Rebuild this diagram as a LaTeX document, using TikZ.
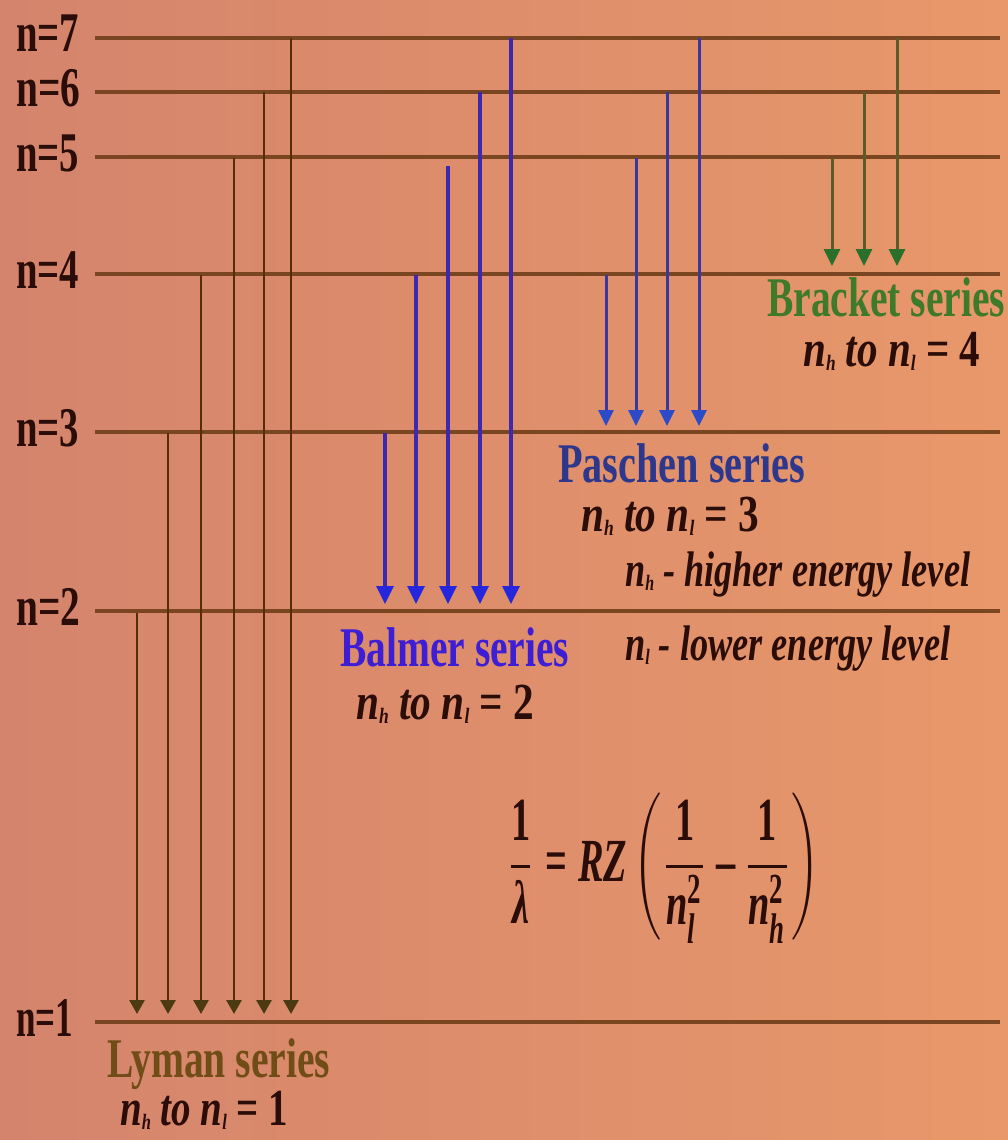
\documentclass[tikz,border=0pt]{standalone}
\usepackage{amsmath}
\usepackage{fontspec}
\setmainfont{Liberation Serif}
\usepackage{graphicx}
\usetikzlibrary{arrows.meta}
\definecolor{bgL}{RGB}{212,132,108}
\definecolor{bgR}{RGB}{232,152,106}
\definecolor{levc}{RGB}{122,70,34}
\definecolor{lymc}{RGB}{85,45,8}
\definecolor{lymh}{RGB}{75,58,18}
\definecolor{balc}{RGB}{62,40,175}
\definecolor{balh}{RGB}{38,38,220}
\definecolor{pasc}{RGB}{58,55,160}
\definecolor{pash}{RGB}{45,75,200}
\definecolor{brac}{RGB}{90,92,42}
\definecolor{brah}{RGB}{42,112,42}
\definecolor{inkc}{RGB}{42,12,8}
\definecolor{lymt}{RGB}{112,76,22}
\definecolor{balt}{RGB}{62,30,212}
\definecolor{past}{RGB}{45,55,140}
\definecolor{brat}{RGB}{62,122,42}
\newcommand{\wbox}[2]{\resizebox{#1pt}{\height}{#2}}
\newcommand{\nsub}[1]{\textit{n}\raisebox{-0.08em}{\fontsize{22}{24}\selectfont\textit{#1}}}
\newcommand{\bi}[1]{\text{\bfseries\itshape #1}}
\newcommand{\bu}[1]{\text{\bfseries #1}}
\tikzset{
  level/.style={line width=4pt, draw=levc},
  levlab/.style={anchor=base west, inner sep=0pt, text=inkc, font=\bfseries\fontsize{56}{62}\selectfont},
  serlab/.style={anchor=base west, inner sep=0pt, font=\bfseries\fontsize{56}{62}\selectfont},
  sublab/.style={anchor=base west, inner sep=0pt, text=inkc, font=\bfseries\fontsize{52}{58}\selectfont},
  notelab/.style={anchor=base west, inner sep=0pt, text=inkc, font=\bfseries\itshape\fontsize{50}{56}\selectfont},
  lyarr/.style={line width=2.8pt, draw=lymc, -{Triangle[width=15pt,length=14pt,color=lymh]}},
  baarr/.style={line width=3.4pt, draw=balc, -{Triangle[width=17pt,length=18pt,color=balh]}},
  paarr/.style={line width=3pt, draw=pasc, -{Triangle[width=15pt,length=16pt,color=pash]}},
  brarr/.style={line width=3pt, draw=brac, -{Triangle[width=16pt,length=17pt,color=brah]}}
}
\begin{document}
\begin{tikzpicture}[x=1pt,y=-1pt]
\shade[left color=bgL, right color=bgR] (0,0) rectangle (1008,1140);
\useasboundingbox (0,0) rectangle (1008,1140);
% energy levels
\foreach \n/\yy/\ww in {7/38/63, 6/92/64, 5/157/63, 4/274/63, 3/432/63, 2/611/64, 1/1022/57}{
  \coordinate (lv\n w) at (95,\yy);
  \coordinate (lv\n e) at (1000,\yy);
  \draw[level] (lv\n w) -- (lv\n e);
  \node[levlab] (lab\n) at (16,\yy+14) {\wbox{\ww}{n=\n}};
}
% Lyman
\foreach \nm/\xx/\ya in {ly2/137/613, ly3/168/433, ly4/201/275, ly5/234/158, ly6/264/92, ly7/291/38}{
  \coordinate (\nm s) at (\xx,\ya);
  \coordinate (\nm e) at (\xx,1014);
  \draw[lyarr] (\nm s) -- (\nm e);
}
% Balmer
\foreach \nm/\xx/\ya in {ba3/385/433, ba4/416/275, ba5/448/166, ba6/480/92, ba7/511/38}{
  \coordinate (\nm s) at (\xx,\ya);
  \coordinate (\nm e) at (\xx,604);
  \draw[baarr] (\nm s) -- (\nm e);
}
% Paschen
\foreach \nm/\xx/\ya in {pa4/606/275, pa5/636/158, pa6/667/92, pa7/699/38}{
  \coordinate (\nm s) at (\xx,\ya);
  \coordinate (\nm e) at (\xx,426);
  \draw[paarr] (\nm s) -- (\nm e);
}
% Brackett
\foreach \nm/\xx/\ya in {br5/832/158, br6/864/92, br7/897/38}{
  \coordinate (\nm s) at (\xx,\ya);
  \coordinate (\nm e) at (\xx,266);
  \draw[brarr] (\nm s) -- (\nm e);
}
% labels
\node[serlab, text=lymt] (lyman) at (107,1077) {\wbox{223}{Lyman series}};
\node[sublab] (lymaneq) at (120,1125) {\wbox{168}{\nsub{h} \textit{to} \nsub{l} = 1}};
\node[serlab, text=balt] (balmer) at (340,666) {\wbox{229}{Balmer series}};
\node[sublab] (balmereq) at (356,719) {\wbox{178}{\nsub{h} \textit{to} \nsub{l} = 2}};
\node[serlab, text=past] (paschen) at (558,482) {\wbox{247}{Paschen series}};
\node[sublab] (pascheneq) at (581,531) {\wbox{178}{\nsub{h} \textit{to} \nsub{l} = 3}};
\node[serlab, text=brat] (bracket) at (767,316) {\wbox{238}{Bracket series}};
\node[sublab] (bracketeq) at (803,366) {\wbox{177}{\nsub{h} \textit{to} \nsub{l} = 4}};
\node[notelab] (high) at (625,586) {\wbox{345}{\nsub{h} - higher energy level}};
\node[notelab] (low) at (625,660) {\wbox{325}{\nsub{l} - lower energy level}};
% formula
\node[inner sep=0pt, text=inkc] (formula) at (663,868)
  {\resizebox*{313pt}{150pt}{$\displaystyle \frac{\bu{1}}{\bi{λ}}\mathrel{\bu{=}}\bi{RZ}\left(\frac{\bu{1}}{\bi{n}_{\bi{l}}^{\bu{2}}}\mathbin{\bu{–}}\frac{\bu{1}}{\bi{n}_{\bi{h}}^{\bu{2}}}\right)$}};
\end{tikzpicture}
\end{document}
